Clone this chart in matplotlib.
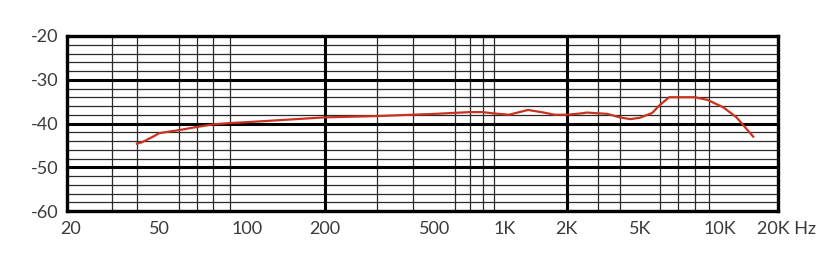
import numpy as np
import matplotlib.pyplot as plt
import matplotlib.transforms as mtransforms
from matplotlib.ticker import FixedLocator, MultipleLocator

plt.rcParams['axes.unicode_minus'] = False

# 频响曲线数据
freq = [40, 42, 47, 50, 60, 70, 80, 90, 100, 200, 300, 500, 700, 800, 900,
        1050, 1300, 1550, 1750, 2000, 2400, 2600, 3400, 4000, 4500, 5000,
        5600, 6000, 6500, 8000, 8900, 10400, 12200, 14900]
level = [-44.6, -44.3, -43.0, -42.2, -41.5, -40.8, -40.2, -39.9, -39.7, -38.6,
         -38.3, -37.8, -37.4, -37.4, -37.7, -38.0, -36.9, -37.5, -38.0, -38.0,
         -37.7, -37.5, -37.8, -38.6, -39.0, -38.7, -37.6, -35.8, -34.0, -34.0,
         -34.6, -36.3, -38.6, -43.0]

tick_f = [20, 50, 100, 200, 500, 1000, 2000, 5000, 10000, 20000]
tick_lbl = ['20', '50', '100', '200', '500', '1K', '2K', '5K', '10K', '20K Hz']
thin_f = [30, 40, 50, 60, 70, 80, 90, 100, 300, 400, 500, 600, 700, 800, 900,
          1000, 3000, 4000, 5000, 6000, 7000, 8000, 9000, 10000]
bold_f = [200, 2000]

# 原图坐标纸的刻度不是严格对数均匀的，按网格线位置分段插值
scale_f = np.array([20, 30, 40, 50, 60, 70, 80, 90, 100, 200, 300, 400, 500,
                    600, 700, 800, 900, 1000, 2000, 3000, 4000, 5000, 6000,
                    7000, 8000, 9000, 10000, 20000])
scale_px = np.array([66.7, 111.7, 137.0, 159.3, 179.3, 196.7, 213.3, 230.0,
                     246.7, 324.5, 377.0, 412.7, 435.0, 454.5, 469.5, 482.5,
                     494.0, 504.5, 566.7, 597.8, 619.7, 639.7, 659.7, 677.8,
                     694.7, 708.8, 720.0, 777.7])
log_f = np.log10(scale_f)


def fwd(f):
    f = np.clip(np.asarray(f, dtype=float), 1e-3, None)
    return np.interp(np.log10(f), log_f, scale_px)


def inv(p):
    return 10 ** np.interp(np.asarray(p, dtype=float), scale_px, log_f)


W, H = 835, 264
fig = plt.figure(figsize=(W / 100, H / 100), dpi=100)
left, right, top, bottom = 66.7, 777.7, 36, 211
ax = fig.add_axes([left / W, 1 - bottom / H, (right - left) / W, (bottom - top) / H])

ax.set_xscale('function', functions=(fwd, inv))
ax.set_xlim(20, 20000)
ax.set_ylim(-60, -20)

# 网格
ax.xaxis.set_major_locator(FixedLocator(tick_f))
ax.xaxis.set_minor_locator(FixedLocator(thin_f))
ax.set_xticklabels(tick_lbl)
ax.yaxis.set_major_locator(MultipleLocator(10))
ax.yaxis.set_minor_locator(MultipleLocator(2))
ax.grid(which='minor', color='#2a2a2a', lw=0.9)
ax.grid(which='major', axis='y', color='black', lw=2.2)
for f in bold_f:
    ax.axvline(f, color='black', lw=2.2, zorder=1)
ax.set_axisbelow(True)

ax.plot(freq, level, color='#c8321e', lw=1.6, zorder=3)

for s in ax.spines.values():
    s.set_linewidth(2.4)
    s.set_color('black')

ax.tick_params(which='both', length=0)
ax.tick_params(axis='x', pad=7)
ax.tick_params(axis='y', pad=6)
for lab in ax.get_xticklabels() + ax.get_yticklabels():
    lab.set_fontfamily('Lato')
    lab.set_fontsize(13)
    lab.set_color('#3a3a3a')

# 两端的标签在原图中稍微往右
xl = ax.get_xticklabels()
xl[0].set_transform(xl[0].get_transform() + mtransforms.ScaledTranslation(3 / 72, 0, fig.dpi_scale_trans))
xl[-1].set_transform(xl[-1].get_transform() + mtransforms.ScaledTranslation(6 / 72, 0, fig.dpi_scale_trans))

fig.savefig('out.png', dpi=100)
